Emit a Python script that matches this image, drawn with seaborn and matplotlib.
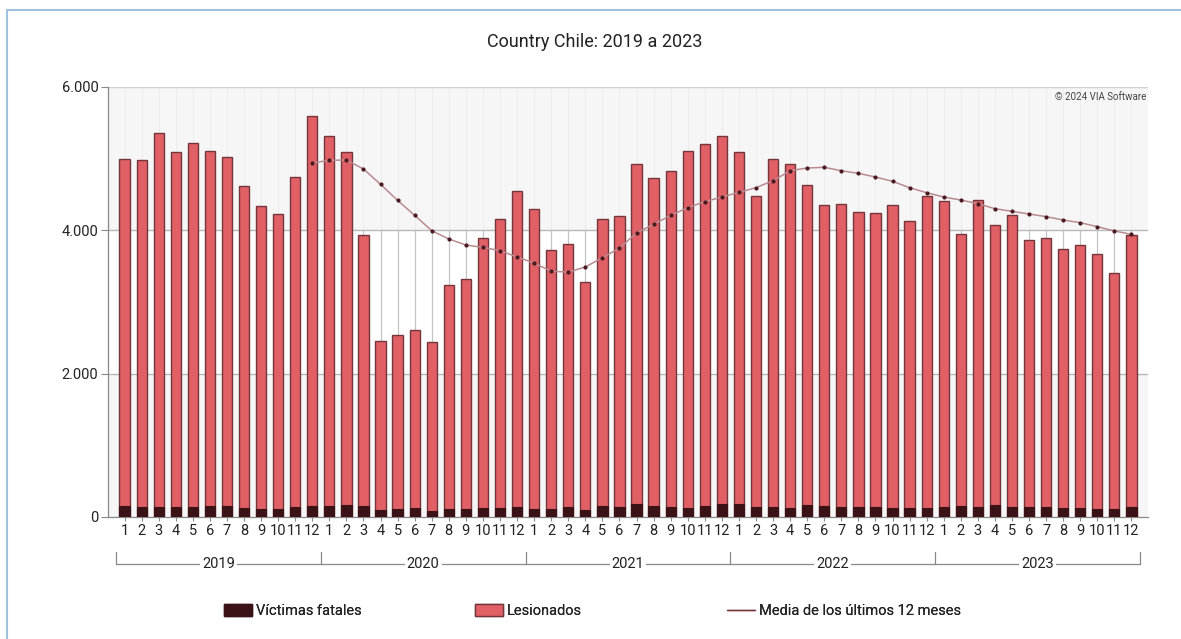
import numpy as np
import pandas as pd
import matplotlib
matplotlib.use("Agg")
import matplotlib.pyplot as plt
import matplotlib.transforms as mtransforms
from matplotlib.patches import Patch
from matplotlib.lines import Line2D
import seaborn as sns

# ---------------- data ----------------
years = [2019, 2020, 2021, 2022, 2023]
months = list(range(1, 13))

victimas_fatales = [158, 135, 135, 135, 135, 153, 149, 126, 107, 112, 135, 153,
                    158, 167, 153, 102, 107, 121, 88, 107, 107, 126, 121, 135,
                    112, 116, 135, 98, 149, 135, 177, 158, 140, 130, 153, 181,
                    181, 144, 144, 130, 167, 153, 140, 140, 144, 126, 130, 130,
                    144, 153, 144, 167, 140, 144, 135, 126, 126, 107, 112, 144]

lesionados = [4832, 4845, 5225, 4955, 5080, 4952, 4876, 4499, 4233, 4113, 4610, 5437,
              5152, 4933, 3782, 2358, 2428, 2484, 2357, 3128, 3208, 3764, 4044, 4410,
              4188, 3604, 3670, 3177, 4006, 4070, 4743, 4567, 4685, 4975, 5047, 5129,
              4919, 4331, 4851, 4790, 4463, 4197, 4225, 4120, 4091, 4224, 3995, 4345,
              4266, 3797, 4276, 3903, 4075, 3726, 3760, 3609, 3664, 3563, 3288, 3796]

media_12_meses = [None] * 11 + [4940, 4977, 4981, 4856, 4642, 4418, 4209, 3995, 3879,
                  3795, 3763, 3716, 3628, 3544, 3428, 3418, 3488, 3618, 3753, 3963,
                  4084, 4209, 4316, 4400, 4465, 4530, 4595, 4693, 4832, 4870, 4879,
                  4832, 4795, 4744, 4684, 4595, 4525, 4465, 4423, 4372, 4302, 4265,
                  4228, 4191, 4144, 4107, 4051, 3991, 3944]

month_labels = [str(m) for y in years for m in months]
period = [f"{y}-{m}" for y in years for m in months]

df = pd.DataFrame({
    "period": period,
    "fatal": victimas_fatales,
    "lesionados": lesionados,
})
df["total"] = df["fatal"] + df["lesionados"]
df["pos"] = np.arange(len(df))
df["media"] = pd.array(media_12_meses, dtype="Float64").astype(float)

# ---------------- style ----------------
sns.set_theme(style="white")
plt.rcParams["font.family"] = ["Roboto", "DejaVu Sans"]

C_LES = "#e06066"
C_FAT = "#3b1317"
C_EDGE = "#74363b"
C_LINE = "#b98a8f"
C_MARK = "#4a1a20"

W, H = 1181, 639
fig = plt.figure(figsize=(W / 100, H / 100), dpi=100)
ax = fig.add_axes([108 / W, 1 - 517 / H, (1148 - 108) / W, (517 - 87) / H])
ax.set_facecolor("white")

# bars (stacked: total drawn in red, fatal drawn on top from zero)
sns.barplot(data=df, x="period", y="total", color=C_LES, width=0.6,
            edgecolor=C_EDGE, linewidth=1, saturation=1, ax=ax, zorder=2)
sns.barplot(data=df, x="period", y="fatal", color=C_FAT, width=0.6,
            edgecolor=C_FAT, linewidth=0.8, saturation=1, ax=ax, zorder=3)

# 12-month moving average
sub = df.dropna(subset=["media"])
sns.lineplot(data=sub, x="pos", y="media", color=C_LINE, lw=1.1, ax=ax, zorder=4)
ax.scatter(sub["pos"], sub["media"], s=9, color=C_MARK, zorder=5, lw=0)

# bands and grid (after seaborn, which switches the categorical grid off)
for xv in df["pos"]:
    ax.axvline(xv, color="#c4c4c4", lw=0.9, zorder=0.5)
ax.axhspan(0, 2000, color="#f5f5f5", alpha=0.85, lw=0, zorder=0.8)
ax.axhspan(4000, 6000, color="#f5f5f5", alpha=0.85, lw=0, zorder=0.8)
for yv, c in [(2000, "#b8b8b8"), (4000, "#b8b8b8"), (6000, "#d0d0d0")]:
    ax.axhline(yv, color=c, lw=1, zorder=0.9)

ax.set_xlim(-0.97, 59.97)
ax.set_ylim(0, 6000)
ax.set_xlabel("")
ax.set_ylabel("")

ax.set_yticks([0, 2000, 4000, 6000])
ax.set_yticklabels(["0", "2.000", "4.000", "6.000"])
ax.set_xticks(np.arange(60))
ax.set_xticklabels(month_labels)
ax.tick_params(axis="y", length=5, width=0.8, color="#888888", pad=2,
               labelsize=10.5, labelcolor="#222222", left=True)
ax.tick_params(axis="x", length=3, width=0.8, color="#888888", pad=2,
               labelsize=10.5, labelcolor="#222222", bottom=True)

for s in ["top", "right"]:
    ax.spines[s].set_visible(False)
ax.spines["left"].set_color("#888888")
ax.spines["bottom"].set_color("#888888")
ax.spines["left"].set_linewidth(0.9)
ax.spines["bottom"].set_linewidth(0.9)

# copyright
ax.text(0.9985, 0.988, "\u00a9 2024 VIA Software", transform=ax.transAxes,
        ha="right", va="top", fontsize=7, color="#444444")

# year grouping below month labels
blend = mtransforms.blended_transform_factory(ax.transData, fig.transFigure)
y_line = 1 - 564 / H
y_top = 1 - 552 / H
ax.plot([-0.5, 59.5], [y_line, y_line], transform=blend, color="#888888",
        lw=0.9, clip_on=False)
for b in [-0.5, 11.5, 23.5, 35.5, 47.5, 59.5]:
    ax.plot([b, b], [y_line, y_top], transform=blend, color="#888888",
            lw=0.9, clip_on=False)
for i, y in enumerate(years):
    ax.text(i * 12 + 5.5, y_line, str(y), transform=blend, ha="center",
            va="center", fontsize=10.5, color="#222222",
            bbox=dict(facecolor="white", edgecolor="none", pad=1.5))

# title
fig.text(595 / W, 1 - 42 / H, "Country Chile: 2019 a 2023", ha="center",
         va="center", fontsize=13, color="#222222")

# legends
yl = 1 - 611 / H
leg_items = [
    (224, Patch(facecolor=C_FAT, edgecolor=C_FAT), "Víctimas fatales"),
    (475, Patch(facecolor=C_LES, edgecolor=C_EDGE), "Lesionados"),
    (727, Line2D([0], [0], color=C_EDGE, lw=1), "Media de los últimos 12 meses"),
]
for xpx, h, lab in leg_items:
    lg = fig.legend(handles=[h], labels=[lab], loc="center left",
                    bbox_to_anchor=(xpx / W, yl), frameon=False, borderpad=0,
                    borderaxespad=0, handlelength=1.9, handleheight=0.9,
                    handletextpad=0.3, fontsize=10.5)
    for t in lg.get_texts():
        t.set_color("#222222")
    fig.add_artist(lg)

# figure border (left and top)
fig.add_artist(Line2D([7 / W, 7 / W], [0, 1 - 10 / H], transform=fig.transFigure,
                      color="#9fc3dc", lw=1.5))
fig.add_artist(Line2D([7 / W, 1], [1 - 10 / H, 1 - 10 / H], transform=fig.transFigure,
                      color="#9fc3dc", lw=1.5))

fig.savefig("out.png", dpi=100)
